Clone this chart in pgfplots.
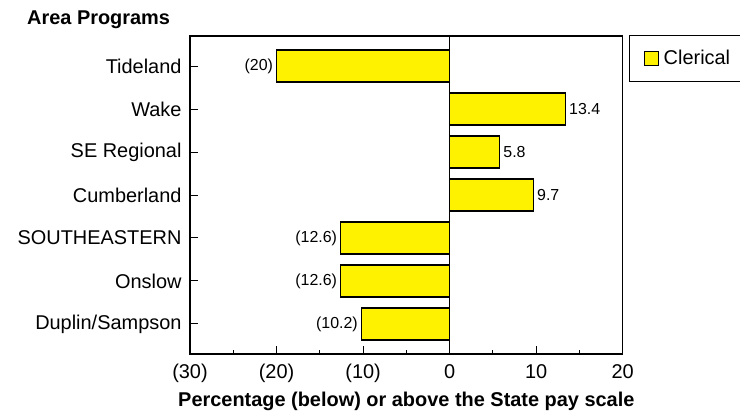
\documentclass[border=0pt]{standalone}
\usepackage{pgfplots}
\pgfplotsset{compat=1.18}
\usepackage{fontspec}
\setmainfont{Liberation Sans}
\begin{document}
\begin{tikzpicture}[x=1bp,y=1bp]
\useasboundingbox (0,0) rectangle (740,411);
\node[anchor=base west, inner sep=0pt, font=\bfseries\fontsize{20}{24}\selectfont] at (27,387) {Area Programs};
\begin{axis}[
  at={(190bp,57bp)}, anchor=south west,
  scale only axis, width=432.7bp, height=318bp,
  xbar, bar width=32bp, bar shift=0pt,
  xmin=-30, xmax=20, ymin=-0.7, ymax=6.7,
  axis line style={line width=1.2bp},
  every tick/.style={black, line width=1bp},
  tick align=inside,
  major tick length=8bp, minor tick length=4bp,
  xtick pos=bottom, ytick pos=left,
  xtick={-30,-20,-10,0,10,20},
  xticklabels={(30),(20),(10),0,10,20},
  minor x tick num=1,
  ytick={0,...,6},
  yticklabels={Duplin/Sampson,Onslow,SOUTHEASTERN,Cumberland,SE Regional,Wake,Tideland},
  ticklabel style={font=\fontsize{20}{24}\selectfont},
  yticklabel style={xshift=-5bp},
  xticklabel style={yshift=-7bp},
  /pgf/number format/assume math mode=true,
  xlabel={Percentage (below) or above the State pay scale},
  xlabel style={font=\bfseries\fontsize{20}{24}\selectfont, yshift=-2bp},
  extra x ticks={0}, extra x tick labels={},
  extra x tick style={grid=major, major grid style={black, line width=1bp}, major tick length=0pt},
  point meta=explicit symbolic,
  legend style={at={(1.0146,1.0031)}, anchor=north west, draw=black, line width=1bp,
    font=\fontsize{20}{24}\selectfont, inner xsep=14bp, inner ysep=13bp,
    nodes={inner sep=2bp}},
  legend image code/.code={\draw[fill=yellow, draw=black, line width=1.2bp] (0bp,-7bp) rectangle (14bp,7bp);},
]
\addplot[fill=yellow, draw=black, line width=1.2bp,
  nodes near coords,
  nodes near coords style={anchor=east, font=\fontsize{16}{19}\selectfont, inner sep=3bp, text=black}]
 coordinates {
  (-10.2,0) [(10.2)]
  (-12.6,1) [(12.6)]
  (-12.6,2) [(12.6)]
  (-20,6) [(20)]
};
\addlegendentry{\hspace{3bp}Clerical}
\addplot[fill=yellow, draw=black, line width=1.2bp, forget plot,
  nodes near coords,
  nodes near coords style={anchor=west, font=\fontsize{16}{19}\selectfont, inner sep=3bp, text=black}]
 coordinates {
  (9.7,3) [9.7]
  (5.8,4) [5.8]
  (13.4,5) [13.4]
};
\end{axis}
\end{tikzpicture}
\end{document}
